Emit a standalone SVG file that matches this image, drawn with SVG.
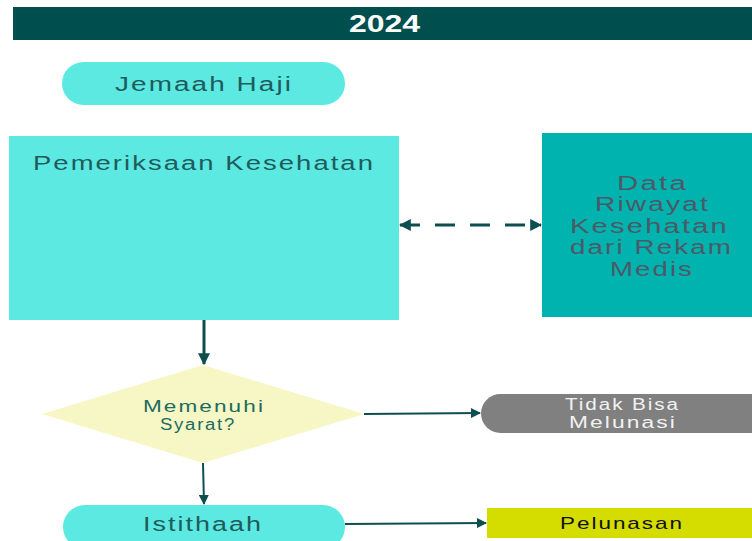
<svg xmlns="http://www.w3.org/2000/svg" width="752" height="541" viewBox="0 0 752 541">
<style>
text{font-family:"Liberation Sans",Arial,sans-serif;letter-spacing:1.5px;}
.t{fill:#1e5c5c;font-size:20px;}
.c{stroke:#0d4f4f;stroke-width:3;fill:none;}
.c2{stroke:#0d4f4f;stroke-width:2;fill:none;}
</style>
<defs>
<marker id="ah" viewBox="0 0 10 10" refX="9" refY="5" markerWidth="4" markerHeight="4" orient="auto-start-reverse"><path d="M0,0 L10,5 L0,10 z" fill="#0d4f4f"/></marker>
<marker id="ah2" viewBox="0 0 10 10" refX="9" refY="5" markerWidth="6" markerHeight="5" orient="auto"><path d="M0,0 L10,5 L0,10 z" fill="#0d4f4f"/></marker>
</defs>
<rect width="752" height="541" fill="#ffffff"/>
<g id="header">
<rect x="13" y="7" width="739" height="33" fill="#004f4f"/>
<text x="349" y="32" font-size="24" font-weight="bold" fill="#ffffff" style="letter-spacing:0" textLength="71" lengthAdjust="spacingAndGlyphs">2024</text>
</g>
<g id="connectors">
<line class="c" x1="400" y1="225" x2="541" y2="225" stroke-dasharray="20,15" marker-start="url(#ah)" marker-end="url(#ah)"/>
<line class="c" x1="204" y1="320" x2="204" y2="364" marker-end="url(#ah)"/>
<line class="c2" x1="364" y1="414" x2="480" y2="413" marker-end="url(#ah2)"/>
<line class="c2" x1="203" y1="463" x2="204" y2="504" marker-end="url(#ah2)"/>
<line class="c2" x1="345" y1="524" x2="486" y2="523" marker-end="url(#ah2)"/>
</g>
<g id="jemaah">
<rect x="62" y="62" width="283" height="43" rx="21.5" fill="#5ce9e2"/>
<text class="t" x="115" y="91" textLength="178" lengthAdjust="spacingAndGlyphs">Jemaah Haji</text>
</g>
<g id="pemeriksaan">
<rect x="9" y="136" width="390" height="184" fill="#5ce9e2"/>
<text class="t" x="33" y="170" textLength="342" lengthAdjust="spacingAndGlyphs">Pemeriksaan Kesehatan</text>
</g>
<g id="data">
<rect x="542" y="133" width="210" height="184" fill="#00b3ae"/>
<g font-size="20" fill="#4c5a68">
<text x="617" y="190" textLength="71" lengthAdjust="spacingAndGlyphs">Data</text>
<text x="595" y="211" textLength="115" lengthAdjust="spacingAndGlyphs">Riwayat</text>
<text x="570" y="233" textLength="159" lengthAdjust="spacingAndGlyphs">Kesehatan</text>
<text x="570" y="254" textLength="163" lengthAdjust="spacingAndGlyphs">dari Rekam</text>
<text x="610" y="276" textLength="84" lengthAdjust="spacingAndGlyphs">Medis</text>
</g>
</g>
<g id="syarat">
<polygon points="203,365 364,414 203,463 42,414" fill="#f6f7c4"/>
<g font-size="16" fill="#1d6b60">
<text x="143" y="412" textLength="122" lengthAdjust="spacingAndGlyphs">Memenuhi</text>
<text x="160" y="430" textLength="76" lengthAdjust="spacingAndGlyphs">Syarat?</text>
</g>
</g>
<g id="tidak">
<rect x="481" y="394" width="290" height="39" rx="19.5" fill="#808080"/>
<g font-size="16" fill="#f2f2f2">
<text x="565" y="410" textLength="115" lengthAdjust="spacingAndGlyphs">Tidak Bisa</text>
<text x="569" y="428" textLength="108" lengthAdjust="spacingAndGlyphs">Melunasi</text>
</g>
</g>
<g id="istithaah">
<rect x="63" y="505" width="282" height="44" rx="22" fill="#5ce9e2"/>
<text class="t" x="143" y="531" textLength="120" lengthAdjust="spacingAndGlyphs">Istithaah</text>
</g>
<g id="pelunasan">
<rect x="487" y="508" width="265" height="30" fill="#d4dc00"/>
<text x="560" y="529" font-size="17" fill="#111111" textLength="124" lengthAdjust="spacingAndGlyphs">Pelunasan</text>
</g>
</svg>
